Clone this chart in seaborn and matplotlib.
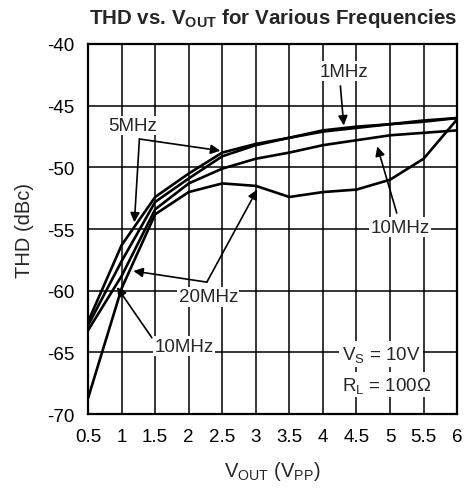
import numpy as np
import pandas as pd
import matplotlib
matplotlib.use('Agg')
import matplotlib.pyplot as plt
import seaborn as sns

# values
vout = [0.5, 1, 1.5, 2, 2.5, 3, 3.5, 4, 4.5, 5, 5.5, 6]
thd_1mhz  = [-62.8, -57.6, -52.8, -50.9, -49.1, -48.2, -47.6, -47.1, -46.8, -46.5, -46.3, -46.0]
thd_5mhz  = [-62.5, -56.3, -52.4, -50.5, -48.8, -48.1, -47.6, -47.0, -46.7, -46.5, -46.2, -46.0]
thd_10mhz = [-63.2, -58.8, -53.4, -51.3, -50.1, -49.3, -48.8, -48.2, -47.8, -47.4, -47.2, -47.0]
thd_20mhz = [-68.7, -59.8, -53.8, -52.0, -51.3, -51.5, -52.4, -52.0, -51.8, -51.0, -49.3, -46.1]
freqs = ['1MHz', '5MHz', '10MHz', '20MHz']
x_ticks = [0.5, 1, 1.5, 2, 2.5, 3, 3.5, 4, 4.5, 5, 5.5, 6]
x_tick_labels = ['0.5', '1', '1.5', '2', '2.5', '3', '3.5', '4', '4.5', '5', '5.5', '6']
y_ticks = [-70, -65, -60, -55, -50, -45, -40]

df = pd.DataFrame({
    'vout': vout * 4,
    'thd': thd_1mhz + thd_5mhz + thd_10mhz + thd_20mhz,
    'freq': np.repeat(freqs, len(vout)),
})

sns.set_style('white')
plt.rcParams['font.family'] = ['Liberation Sans', 'DejaVu Sans']
plt.rcParams['axes.unicode_minus'] = False
plt.rcParams['mathtext.fontset'] = 'custom'
plt.rcParams['mathtext.rm'] = 'Liberation Sans'
plt.rcParams['mathtext.it'] = 'Liberation Sans'
plt.rcParams['mathtext.bf'] = 'Liberation Sans:bold'

fig = plt.figure(figsize=(4.66, 4.89), dpi=100)
ax = fig.add_axes([0.189, 0.151, 0.792, 0.757])

sns.lineplot(data=df, x='vout', y='thd', hue='freq', palette={f: 'black' for f in freqs},
             linewidth=1.9, legend=False, ax=ax, zorder=3)

ax.set_xlim(0.5, 6)
ax.set_ylim(-70, -40)
ax.set_xticks(x_ticks)
ax.set_xticklabels(x_tick_labels)
ax.set_yticks(y_ticks)
ax.tick_params(axis='y', length=0, labelsize=13.5, pad=10, colors='black')
ax.tick_params(axis='x', length=0, labelsize=13.5, pad=10, colors='black')
ax.grid(True, color='black', linewidth=1.1)
for s in ax.spines.values():
    s.set_color('black')
    s.set_linewidth(1.6)

ax.set_xlabel(r'V$_{\mathrm{OUT}}$ (V$_{\mathrm{PP}}$)', fontsize=14.5, labelpad=10)
ax.set_ylabel('THD (dBc)', fontsize=14.5, labelpad=9)
ax.set_title(r'THD vs. V$_{\mathbf{OUT}}$ for Various Frequencies', fontsize=14.8,
             fontweight='bold', pad=15)

box = dict(facecolor='white', edgecolor='none', pad=1)
arr = dict(arrowstyle='-|>', color='black', lw=1.2, mutation_scale=14, shrinkA=0, shrinkB=0)
fs = 13.5

ax.text(4.31, -42.2, '1MHz', fontsize=fs, ha='center', va='center', bbox=box, zorder=5)
ax.annotate('', xy=(4.31, -46.6), xytext=(4.26, -43.4), arrowprops=arr, zorder=5)

ax.text(1.16, -46.6, '5MHz', fontsize=fs, ha='center', va='center', bbox=box, zorder=5)
ax.annotate('', xy=(2.47, -48.65), xytext=(1.265, -47.7), arrowprops=arr, zorder=5)
ax.annotate('', xy=(1.19, -54.45), xytext=(1.265, -47.7), arrowprops=arr, zorder=5)

ax.text(5.15, -54.85, '10MHz', fontsize=fs, ha='center', va='center', bbox=box, zorder=5)
ax.annotate('', xy=(4.81, -48.3), xytext=(5.1, -53.7), arrowprops=arr, zorder=5)

ax.text(2.29, -60.5, '20MHz', fontsize=fs, ha='center', va='center', bbox=box, zorder=5)
ax.annotate('', xy=(1.175, -58.4), xytext=(2.27, -59.3), arrowprops=arr, zorder=5)
ax.annotate('', xy=(3.02, -51.8), xytext=(2.27, -59.3), arrowprops=arr, zorder=5)

ax.text(1.93, -64.5, '10MHz', fontsize=fs, ha='center', va='center', bbox=box, zorder=5)
ax.annotate('', xy=(0.93, -59.7), xytext=(1.45, -63.8), arrowprops=arr, zorder=5)

ax.text(4.285, -65.1, r'V$_{\mathrm{S}}$ = 10V', fontsize=fs, ha='left', va='center',
        bbox=dict(facecolor='white', edgecolor='none', pad=2), zorder=5)
ax.text(4.285, -67.6, r'R$_{\mathrm{L}}$ = 100$\Omega$', fontsize=fs, ha='left', va='center',
        bbox=dict(facecolor='white', edgecolor='none', pad=2), zorder=5)

fig.savefig('out.png', dpi=100)
